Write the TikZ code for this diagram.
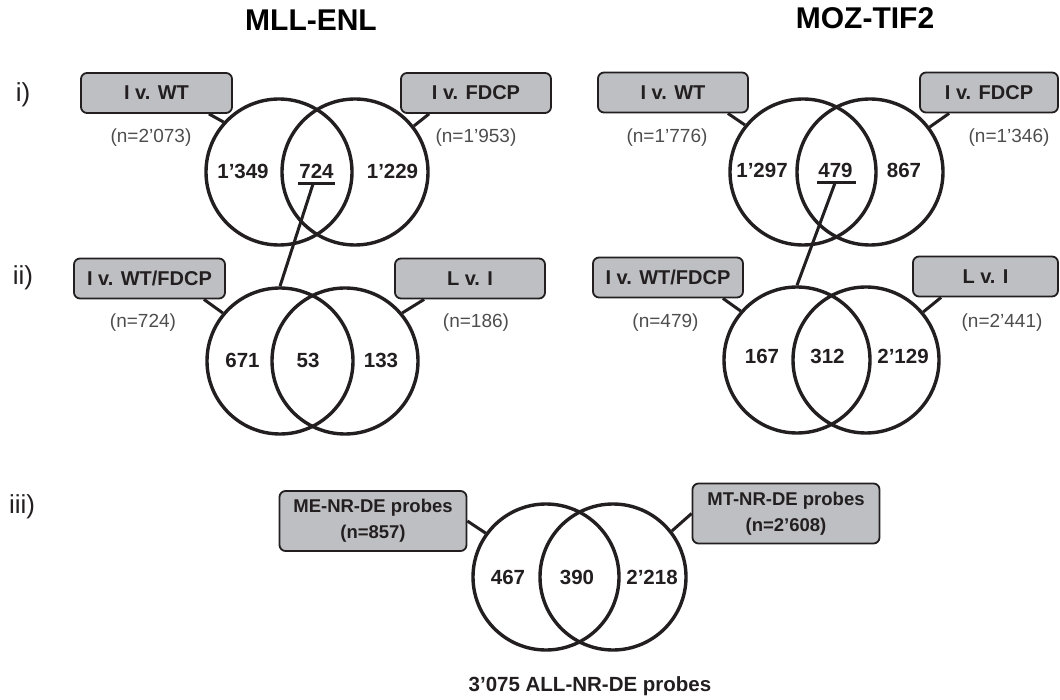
\documentclass[tikz,border=0pt]{standalone}
\usepackage{fontspec}
\setmainfont{Liberation Sans}
\usetikzlibrary{calc}
\definecolor{ink}{HTML}{231F20}
\definecolor{boxfill}{RGB}{190,191,194}
\definecolor{ngray}{HTML}{4D4D4F}
\begin{document}
\begin{tikzpicture}[x=1pt,y=-1pt,
 venn/.style={circle,draw=ink,line width=3.4pt,minimum size=146pt,inner sep=0pt},
 lbl/.style={draw=ink,fill=boxfill,line width=1.8pt,rounded corners=6pt,minimum width=150pt,minimum height=40pt,inner sep=0pt,text=ink,font=\fontsize{20}{24}\selectfont\bfseries},
 wide/.style={lbl,minimum width=187pt,minimum height=60pt,align=center,font=\fontsize{18.5}{26}\selectfont\bfseries},
 conn/.style={draw=ink,line width=3pt},
 num/.style={anchor=base,inner sep=0pt,text=ink,font=\fontsize{20.5}{24}\selectfont\bfseries},
 cnt/.style={inner sep=0pt,text=ngray,font=\fontsize{19}{23}\selectfont},
 rowlbl/.style={anchor=base,inner sep=0pt,text=ink,font=\fontsize{26}{30}\selectfont},
 ttl/.style={anchor=base,inner sep=0pt,text=black,font=\fontsize{30}{36}\selectfont\bfseries}]
\useasboundingbox (0,0) rectangle (1060,700);

% titles and row labels
\node[ttl] (t1) at (311,31) {MLL-ENL};
\node[ttl] (t2) at (865,29) {MOZ-TIF2};
\node[rowlbl] (r1) at (23,102) {i)};
\node[rowlbl] (r2) at (23,285) {ii)};
\node[rowlbl] (r3) at (22,513) {iii)};

% ---------- MLL-ENL i)
\node[venn] (a1) at (279,172) {};
\node[venn] (a2) at (355,172) {};
\node[lbl,minimum width=151pt] (b1) at (156.5,93) {I v. WT};
\node[lbl] (b2) at (476,93) {I v. FDCP};
\node[cnt] (n1) at (151,138) {(n=2’073)};
\node[cnt] (n2) at (476,138) {(n=1’953)};
\node[num] (m1) at (243,179) {1’349};
\node[num] (m2) at (316.5,179) {724};
\node[num] (m3) at (392.5,179) {1’229};
\draw[conn] ($(b1.south east)+(-24,0)$) -- (a1.138);
\draw[conn] ($(b2.south west)+(29,0)$) -- (a2.38);
\coordinate (u1a) at (298,184);
\coordinate (u1b) at (335,184);
\coordinate (u1m) at (313,184);
\draw[conn] (u1a) -- (u1b);

% ---------- MLL-ENL ii)
\node[venn] (c1) at (280,361) {};
\node[venn] (c2) at (345,361) {};
\node[lbl,minimum width=151pt] (d1) at (149.5,278.5) {I v. WT/FDCP};
\node[lbl] (d2) at (470,278.5) {L v. I};
\node[cnt] (n3) at (143,323) {(n=724)};
\node[cnt] (n4) at (476,323) {(n=186)};
\node[num] (m4) at (242.5,367) {671};
\node[num] (m5) at (308,367) {53};
\node[num] (m6) at (381,367) {133};
\draw[conn] ($(d1.south east)+(-22,0)$) -- (c1.140);
\draw[conn] ($(d2.south west)+(30,0)$) -- (c2.40);
\draw[conn] (u1m) -- (c1.north);

% ---------- MOZ-TIF2 i)
\node[venn] (e1) at (803,172) {};
\node[venn] (e2) at (870,172) {};
\node[lbl] (f1) at (673,92.5) {I v. WT};
\node[lbl,minimum width=138pt] (f2) at (989,92.5) {I v. FDCP};
\node[cnt] (n5) at (667,138) {(n=1’776)};
\node[cnt] (n6) at (1009,138) {(n=1’346)};
\node[num] (m7) at (762,178) {1’297};
\node[num] (m8) at (835.5,178) {479};
\node[num] (m9) at (904,178) {867};
\draw[conn] ($(f1.south east)+(-21,0)$) -- (e1.141);
\draw[conn] ($(f2.south west)+(30,0)$) -- (e2.37);
\coordinate (u2a) at (817,183);
\coordinate (u2b) at (856,183);
\coordinate (u2m) at (835,183);
\draw[conn] (u2a) -- (u2b);

% ---------- MOZ-TIF2 ii)
\node[venn] (g1) at (797,360) {};
\node[venn] (g2) at (866,360) {};
\node[lbl] (h1) at (668,277.5) {I v. WT/FDCP};
\node[lbl,minimum width=145pt] (h2) at (985.5,276.5) {L v. I};
\node[cnt] (n7) at (665.5,323) {(n=479)};
\node[cnt] (n8) at (1002,323) {(n=2’441)};
\node[num] (m10) at (762,364) {167};
\node[num] (m11) at (827.5,364) {312};
\node[num] (m12) at (903,364) {2’129};
\draw[conn] ($(h1.south east)+(-21,0)$) -- (g1.139);
\draw[conn] ($(h2.south west)+(29,0)$) -- (g2.40);
\draw[conn] (u2m) -- (g1.north);

% ---------- iii)
\node[venn] (p1) at (546,577) {};
\node[venn] (p2) at (613,577) {};
\node[wide] (q1) at (373,521) {ME-NR-DE probes\\(n=857)};
\node[wide] (q2) at (786,513.5) {MT-NR-DE probes\\(n=2’608)};
\node[num] (m13) at (508,584) {467};
\node[num] (m14) at (577,584) {390};
\node[num] (m15) at (652,584) {2’218};
\draw[conn] (q1.east) -- (p1.144);
\draw[conn] (q2.west) -- (p2.38);
\node[num] (tot) at (590,691) {3’075 ALL-NR-DE probes};
\end{tikzpicture}
\end{document}
